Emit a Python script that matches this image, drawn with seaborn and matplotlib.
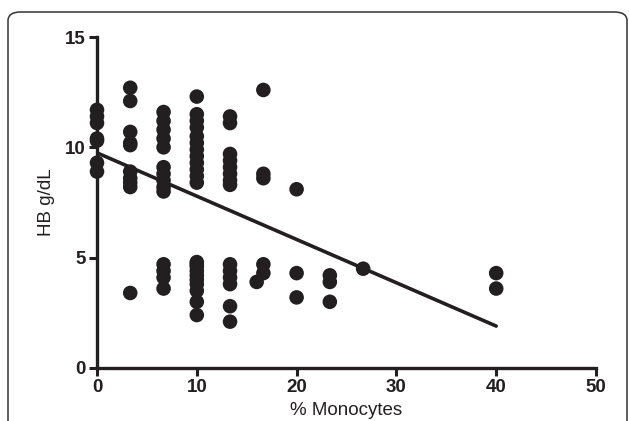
import numpy as np
import pandas as pd
import matplotlib
matplotlib.use('Agg')
import matplotlib.pyplot as plt
from matplotlib.patches import FancyBboxPatch
import seaborn as sns

# % monocytes (x) and HB g/dL (y), one list per column of points
monocytes = (
    [0] * 7 + [3.33] * 10 + [6.67] * 14 + [10] * 22 + [13.33] * 14 +
    [16.67] * 5 + [16.0] + [20] * 3 + [23.33] * 3 + [26.67] + [40] * 2
)
hb = (
    [11.7, 11.4, 11.1, 10.4, 10.3, 9.3, 8.9] +
    [12.7, 12.1, 10.7, 10.2, 10.1, 8.9, 8.6, 8.4, 8.2, 3.4] +
    [11.6, 11.2, 10.8, 10.4, 10.0, 9.1, 8.8, 8.5, 8.2, 8.0, 4.7, 4.4, 4.1, 3.6] +
    [12.3, 11.5, 11.2, 10.9, 10.5, 10.2, 9.9, 9.6, 9.3, 9.0, 8.7, 8.4,
     4.8, 4.6, 4.4, 4.2, 4.0, 3.8, 3.5, 3.0, 2.4, 4.7] +
    [11.4, 11.1, 9.7, 9.4, 9.1, 8.8, 8.5, 8.3, 4.7, 4.4, 4.1, 3.8, 2.8, 2.1] +
    [12.6, 8.8, 8.6, 4.7, 4.3] + [3.9] +
    [8.1, 4.3, 3.2] + [4.2, 3.9, 3.0] + [4.5] + [4.3, 3.6]
)
# regression line endpoints as drawn in the chart
fit_x = [0, 40]
fit_y = [9.75, 1.9]

x_ticks = [0, 10, 20, 30, 40, 50]
y_ticks = [0, 5, 10, 15]

df = pd.DataFrame({'mono': monocytes, 'hb': hb})
fit = pd.DataFrame({'mono': fit_x, 'hb': fit_y})

sns.set_style('ticks')
plt.rcParams['font.family'] = ['Liberation Sans', 'DejaVu Sans']

fig = plt.figure(figsize=(6.29, 4.21), dpi=100)
ax = fig.add_axes([97 / 629, 1 - 368 / 421, 499 / 629, 331 / 421])

ink = '#231f20'
sns.scatterplot(data=df, x='mono', y='hb', ax=ax, s=110, color=ink,
                edgecolor='none', linewidth=0, clip_on=False, zorder=3)
sns.lineplot(data=fit, x='mono', y='hb', ax=ax, color=ink, lw=2.6, zorder=2)

ax.set_xlim(0, 50)
ax.set_ylim(0, 15)
ax.set_xticks(x_ticks)
ax.set_yticks(y_ticks)
ax.tick_params(axis='both', direction='out', length=6, width=2.2, color=ink,
               labelsize=13.5, labelcolor=ink, pad=2)
for lab in ax.get_xticklabels() + ax.get_yticklabels():
    lab.set_fontweight('bold')
sns.despine(ax=ax)
for side in ['left', 'bottom']:
    ax.spines[side].set_linewidth(2.4)
    ax.spines[side].set_color(ink)
ax.set_xlabel('% Monocytes', fontsize=13.5, color=ink, labelpad=4)
ax.set_ylabel('HB g/dL', fontsize=13.5, color=ink, labelpad=7)

# rounded frame around the figure
frame = FancyBboxPatch((8 / 629, -0.2), 619 / 629, 1.2 - 12 / 421,
                       boxstyle='round,pad=0,rounding_size=0.02',
                       transform=fig.transFigure, fill=False,
                       edgecolor='#333333', linewidth=1.1)
fig.patches.append(frame)

fig.savefig('out.png', dpi=100)
